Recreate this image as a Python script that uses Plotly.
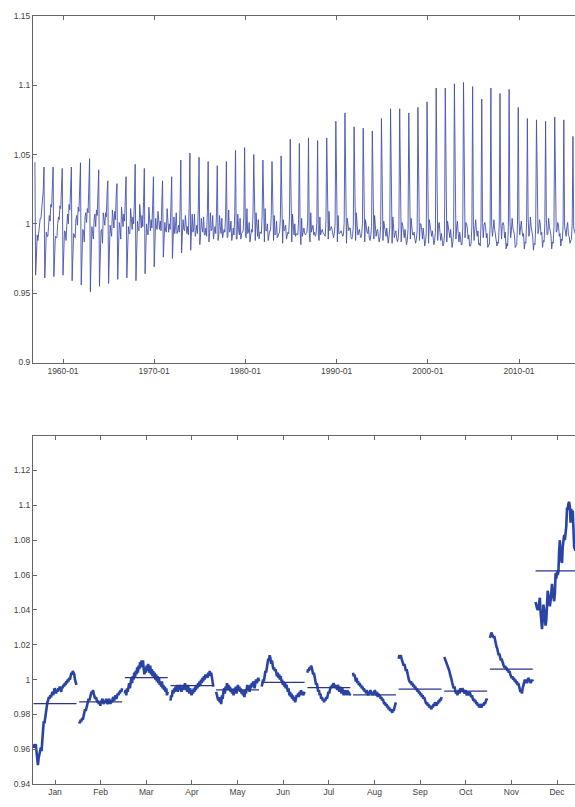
import plotly.graph_objects as go

# ---------------- data (seasonal factors, years 1957-2016; Dec also has 1956) -------------
years = list(range(1957, 2017))
dec_years = list(range(1956, 2017))

jan = [0.963, 0.961, 0.962, 0.963, 0.959, 0.956, 0.951, 0.955, 0.957, 0.960,
       0.961, 0.959, 0.964, 0.969, 0.976, 0.975, 0.979, 0.981, 0.985, 0.987,
       0.988, 0.990, 0.989, 0.991, 0.990, 0.992, 0.993, 0.991, 0.993, 0.995,
       0.994, 0.992, 0.994, 0.993, 0.995, 0.994, 0.996, 0.995, 0.993, 0.996,
       0.995, 0.997, 0.996, 0.998, 0.997, 0.999, 0.998, 1.000, 0.999, 1.001,
       1.000, 1.002, 1.004, 1.003, 1.005, 1.004, 1.003, 1.000, 0.998, 0.997]
feb = [0.976, 0.975, 0.977, 0.976, 0.978, 0.977, 0.979, 0.981, 0.983, 0.982,
       0.984, 0.986, 0.987, 0.989, 0.988, 0.990, 0.991, 0.993, 0.992, 0.994,
       0.992, 0.991, 0.989, 0.990, 0.988, 0.987, 0.988, 0.986, 0.987, 0.985,
       0.987, 0.988, 0.989, 0.987, 0.986, 0.988, 0.987, 0.989, 0.988, 0.986,
       0.987, 0.989, 0.988, 0.986, 0.988, 0.987, 0.989, 0.990, 0.988, 0.990,
       0.991, 0.989, 0.990, 0.992, 0.991, 0.993, 0.992, 0.994, 0.993, 0.995]
mar = [0.992, 0.994, 0.991, 0.995, 0.993, 0.996, 0.998, 0.995, 0.999, 1.001,
       0.998, 1.002, 1.000, 1.004, 1.001, 1.005, 1.003, 1.007, 1.004, 1.008,
       1.006, 1.010, 1.007, 1.011, 1.008, 1.011, 1.006, 1.003, 1.007, 1.004,
       1.008, 1.005, 1.009, 1.006, 1.004, 1.008, 1.003, 1.006, 1.002, 1.005,
       1.001, 1.004, 1.000, 1.003, 0.999, 1.002, 0.998, 1.001, 0.997, 0.999,
       0.996, 0.999, 0.995, 0.997, 0.994, 0.996, 0.993, 0.995, 0.991, 0.993]
apr = [0.988, 0.991, 0.990, 0.994, 0.992, 0.995, 0.993, 0.996, 0.994, 0.997,
       0.993, 0.996, 0.994, 0.997, 0.995, 0.993, 0.996, 0.994, 0.997, 0.995,
       0.998, 0.994, 0.996, 0.993, 0.997, 0.995, 0.992, 0.995, 0.993, 0.991,
       0.994, 0.992, 0.995, 0.993, 0.996, 0.994, 0.997, 0.995, 0.998, 0.996,
       0.999, 0.997, 1.000, 0.998, 1.001, 0.999, 1.002, 1.000, 1.003, 1.001,
       1.003, 1.001, 1.004, 1.002, 1.005, 1.003, 1.004, 1.001, 0.998, 0.996]
may = [0.993, 0.991, 0.990, 0.988, 0.990, 0.987, 0.989, 0.986, 0.991, 0.989,
       0.993, 0.995, 0.992, 0.996, 0.994, 0.998, 0.995, 0.997, 0.994, 0.996,
       0.993, 0.995, 0.992, 0.994, 0.991, 0.995, 0.993, 0.996, 0.992, 0.994,
       0.997, 0.994, 0.996, 0.993, 0.995, 0.992, 0.994, 0.991, 0.993, 0.990,
       0.994, 0.992, 0.995, 0.997, 0.994, 0.996, 0.993, 0.997, 0.995, 0.998,
       0.996, 0.999, 0.997, 0.995, 0.998, 1.000, 0.998, 0.999, 1.001, 0.999]
jun = [0.996, 0.998, 1.000, 0.999, 1.003, 1.005, 1.004, 1.008, 1.010, 1.012,
       1.011, 1.014, 1.012, 1.009, 1.011, 1.008, 1.006, 1.007, 1.005, 1.006,
       1.004, 1.002, 1.004, 1.001, 1.003, 1.000, 1.002, 0.999, 1.000, 0.997,
       0.999, 0.996, 0.998, 0.995, 0.997, 0.994, 0.993, 0.995, 0.991, 0.993,
       0.990, 0.992, 0.989, 0.991, 0.988, 0.990, 0.987, 0.989, 0.991, 0.990,
       0.992, 0.990, 0.993, 0.991, 0.994, 0.992, 0.993, 0.991, 0.992, 0.993]
jul = [1.004, 1.006, 1.005, 1.007, 1.006, 1.008, 1.007, 1.005, 1.003, 1.004,
       1.001, 0.999, 0.997, 0.998, 0.995, 0.993, 0.994, 0.991, 0.992, 0.989,
       0.990, 0.988, 0.989, 0.987, 0.989, 0.988, 0.990, 0.989, 0.991, 0.993,
       0.992, 0.994, 0.996, 0.995, 0.997, 0.996, 0.998, 0.996, 0.997, 0.995,
       0.996, 0.994, 0.997, 0.995, 0.993, 0.996, 0.994, 0.992, 0.995, 0.993,
       0.991, 0.994, 0.992, 0.993, 0.991, 0.994, 0.992, 0.993, 0.991, 0.992]
aug = [1.004, 1.002, 1.003, 1.000, 0.999, 1.001, 0.998, 0.999, 0.997, 0.998,
       0.996, 0.997, 0.995, 0.996, 0.994, 0.995, 0.993, 0.994, 0.992, 0.994,
       0.993, 0.991, 0.993, 0.992, 0.994, 0.992, 0.993, 0.991, 0.993, 0.992,
       0.994, 0.992, 0.991, 0.993, 0.990, 0.992, 0.990, 0.991, 0.989, 0.990,
       0.988, 0.989, 0.987, 0.986, 0.987, 0.985, 0.986, 0.984, 0.985, 0.983,
       0.984, 0.982, 0.983, 0.982, 0.981, 0.983, 0.982, 0.984, 0.986, 0.987]
sep = [1.012, 1.014, 1.013, 1.014, 1.012, 1.011, 1.010, 1.008, 1.009, 1.007,
       1.005, 1.006, 1.003, 1.002, 1.000, 0.999, 0.998, 0.999, 0.997, 0.998,
       0.996, 0.997, 0.995, 0.996, 0.994, 0.995, 0.993, 0.994, 0.992, 0.993,
       0.991, 0.992, 0.990, 0.991, 0.989, 0.990, 0.988, 0.987, 0.986, 0.987,
       0.985, 0.986, 0.984, 0.985, 0.984, 0.983, 0.985, 0.984, 0.986, 0.985,
       0.987, 0.986, 0.985, 0.987, 0.986, 0.988, 0.987, 0.989, 0.988, 0.990]
oct_ = [1.013, 1.012, 1.011, 1.010, 1.009, 1.008, 1.006, 1.005, 1.003, 1.002,
        1.000, 0.998, 0.997, 0.995, 0.996, 0.994, 0.992, 0.993, 0.991, 0.993,
        0.994, 0.992, 0.995, 0.994, 0.993, 0.995, 0.994, 0.993, 0.992, 0.994,
        0.993, 0.991, 0.993, 0.992, 0.991, 0.993, 0.992, 0.990, 0.991, 0.989,
        0.988, 0.989, 0.987, 0.988, 0.986, 0.987, 0.985, 0.986, 0.984, 0.985,
        0.986, 0.984, 0.985, 0.986, 0.985, 0.987, 0.986, 0.988, 0.989, 0.988]
nov = [1.024, 1.026, 1.027, 1.026, 1.025, 1.024, 1.025, 1.022, 1.020, 1.019,
       1.018, 1.016, 1.014, 1.015, 1.013, 1.011, 1.012, 1.010, 1.009, 1.008,
       1.007, 1.008, 1.006, 1.007, 1.005, 1.006, 1.004, 1.005, 1.003, 1.002,
       1.001, 1.002, 1.000, 1.001, 0.999, 1.000, 0.998, 0.999, 0.997, 0.998,
       0.996, 0.995, 0.993, 0.994, 0.992, 0.995, 0.997, 0.999, 1.000, 0.998,
       1.000, 0.998, 0.999, 1.001, 0.999, 1.000, 0.998, 0.999, 1.000, 0.999]
dec = [1.0445, 1.041, 1.041, 1.040, 1.041, 1.044, 1.047, 1.039, 1.031, 1.029,
       1.034, 1.043, 1.040, 1.034, 1.031, 1.034, 1.046, 1.051, 1.048, 1.045,
       1.042, 1.045, 1.053, 1.055, 1.050, 1.046, 1.045, 1.049, 1.061, 1.058,
       1.062, 1.060, 1.062, 1.074, 1.080, 1.070, 1.069, 1.067, 1.076, 1.083,
       1.083, 1.080, 1.084, 1.088, 1.098, 1.098, 1.101, 1.102, 1.099, 1.090,
       1.098, 1.094, 1.097, 1.084, 1.076, 1.075, 1.074, 1.077, 1.075, 1.063,
       1.060]

month_labels = ["Jan", "Feb", "Mar", "Apr", "May", "Jun",
                "Jul", "Aug", "Sep", "Oct", "Nov", "Dec"]
top_tick_years = [1960, 1970, 1980, 1990, 2000, 2010]
top_tick_text = ["1960-01", "1970-01", "1980-01", "1990-01", "2000-01", "2010-01"]
top_yticks = [0.9, 0.95, 1.0, 1.05, 1.1, 1.15]
top_ytext = ["0.9", "0.95", "1", "1.05", "1.1", "1.15"]
bot_yticks = [0.94, 0.96, 0.98, 1.0, 1.02, 1.04, 1.06, 1.08, 1.1, 1.12]
bot_ytext = ["0.94", "0.96", "0.98", "1", "1.02", "1.04", "1.06", "1.08", "1.1", "1.12"]

monthly = [jan, feb, mar, apr, may, jun, jul, aug, sep, oct_, nov, dec]
month_years = [years] * 11 + [dec_years]

# ---------------- build chronological series ----------------
records = []
for m, (vals, yrs) in enumerate(zip(monthly, month_years)):
    for y, v in zip(yrs, vals):
        records.append((y + m / 12.0, v))
records.sort()
t_top = [r[0] for r in records]
v_top = [r[1] for r in records]

W, H = 575, 807
top_dom = [1 - 362 / H, 1 - 11 / H]
bot_dom = [1 - 789 / H, 1 - 436 / H]

fig = go.Figure()
fig.add_trace(go.Scatter(x=t_top, y=v_top, mode="lines",
                         line=dict(color="#4652ad", width=0.9),
                         xaxis="x", yaxis="y", showlegend=False, hoverinfo="skip"))

line_col = "#2a44a6"
mean_col = "#2b3688"
for m, (vals, yrs) in enumerate(zip(monthly, month_years)):
    n = len(vals)
    c = m + 1
    xs = [c - 0.47 + 0.94 * i / (n - 1) for i in range(n)]
    fig.add_trace(go.Scatter(x=xs, y=vals, mode="lines",
                             line=dict(color=line_col, width=2.6),
                             xaxis="x2", yaxis="y2", showlegend=False, hoverinfo="skip"))
    mu = sum(vals) / n
    fig.add_trace(go.Scatter(x=[xs[0], xs[-1]], y=[mu, mu], mode="lines",
                             line=dict(color=mean_col, width=1.3),
                             xaxis="x2", yaxis="y2", showlegend=False, hoverinfo="skip"))

axis_common = dict(showline=True, linecolor="#666666", linewidth=1,
                   ticks="inside", ticklen=4, tickcolor="#666666",
                   showgrid=False, zeroline=False,
                   tickfont=dict(family="Liberation Sans, Arial", size=8.5, color="#444444"))

px_per_year = (519 - 63) / 50.0
x0_top = 1960 - (63 - 33) / px_per_year
x1_top = 2010 + (575 - 519) / px_per_year
px_per_month = (557 - 55) / 11.0
x0_bot = 1 - (55 - 33) / px_per_month
x1_bot = 12 + (575 - 557) / px_per_month

fig.update_layout(
    width=W, height=H,
    margin=dict(l=33, r=0, t=0, b=0),
    paper_bgcolor="white", plot_bgcolor="white",
    xaxis=dict(domain=[0, 1], anchor="y", range=[x0_top, x1_top],
               tickvals=top_tick_years, ticktext=top_tick_text, mirror="ticks",
               **axis_common),
    yaxis=dict(domain=top_dom, anchor="x", range=[0.9, 1.15],
               tickvals=top_yticks, ticktext=top_ytext, **axis_common),
    xaxis2=dict(domain=[0, 1], anchor="y2", range=[x0_bot, x1_bot],
                tickvals=list(range(1, 13)), ticktext=month_labels, mirror="ticks",
                **axis_common),
    yaxis2=dict(domain=bot_dom, anchor="x2", range=[0.94, 1.14],
                tickvals=bot_yticks, ticktext=bot_ytext, **axis_common),
)

fig.write_html("out.html")
